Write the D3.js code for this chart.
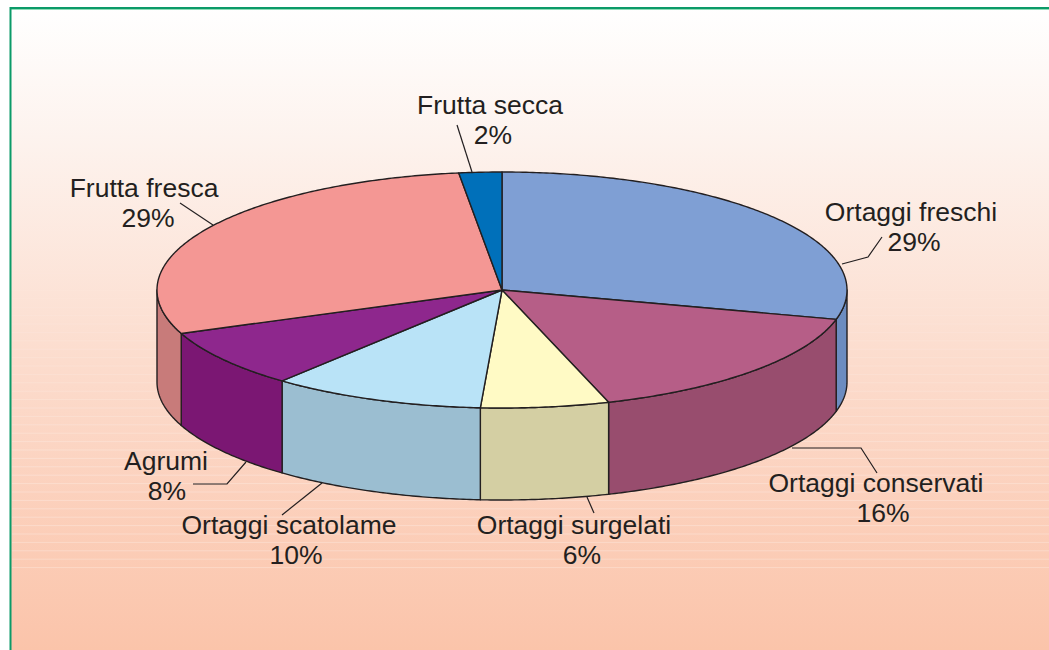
<!DOCTYPE html>
<html>
<head>
<meta charset="utf-8">
<script src="https://cdn.jsdelivr.net/npm/d3@7"></script>
<style>
  html, body { margin: 0; padding: 0; background: #ffffff; }
  svg { display: block; }
</style>
</head>
<body>
<svg id="chart" width="1049" height="650"></svg>
<script>
// ---- data ----
const categories = ["Ortaggi freschi", "Ortaggi conservati", "Ortaggi surgelati",
                    "Ortaggi scatolame", "Agrumi", "Frutta fresca", "Frutta secca"];
const values = [29, 16, 6, 10, 8, 29, 2];
const percentLabels = ["29%", "16%", "6%", "10%", "8%", "29%", "2%"];

// ---- style / layout ----
const topColors  = ["#7F9FD4", "#B65E87", "#FFFAC5", "#B9E3F7", "#8E278D", "#F49794", "#0070BA"];
const sideColors = ["#6C8CC0", "#984D6E", "#D4CFA3", "#9BBED1", "#7B1773", "#C87B7A", "#005C99"];
// label centre x, percent centre x, first baseline y, leader polyline
const labelLayout = [
  { x: 911, px: 914, y: 221, leader: [[842, 264], [868, 257], [882, 237]] },
  { x: 876, px: 883, y: 492, leader: [[792, 448], [861, 448], [877, 473]] },
  { x: 574, px: 582, y: 534, leader: [[587, 497], [594, 513]] },
  { x: 289, px: 296, y: 534, leader: [[322, 483], [282, 515]] },
  { x: 166, px: 167, y: 470, leader: [[246, 462], [227, 484], [193, 484]] },
  { x: 144, px: 148, y: 197, leader: [[213, 225], [180, 203]] },
  { x: 490, px: 493, y: 114, leader: [[472, 172], [457, 125]] }
];

const W = 1049, H = 650;
const cx = 502, cy = 290, rx = 345, ry = 118, depth = 92;
const ink = "#231F20";

const svg = d3.select("#chart");
const defs = svg.append("defs");
const grad = defs.append("linearGradient").attr("id", "bg")
  .attr("x1", 0).attr("y1", 0).attr("x2", 0).attr("y2", 1);
grad.append("stop").attr("offset", "0%").attr("stop-color", "#FFFFFF");
grad.append("stop").attr("offset", "20%").attr("stop-color", "#FDF3EE");
grad.append("stop").attr("offset", "55%").attr("stop-color", "#FCDCCD");
grad.append("stop").attr("offset", "100%").attr("stop-color", "#FBC4AA");

svg.append("rect").attr("x", 10).attr("y", 8).attr("width", W - 10).attr("height", H - 8)
  .attr("fill", "url(#bg)");
// faint horizontal banding lines
const bandY = d3.range(0, 40).map(i => 240 + i * 8.4);
svg.append("g").selectAll("line").data(bandY).join("line")
  .attr("x1", 12).attr("x2", W).attr("y1", d => d).attr("y2", d => d)
  .attr("stroke", "#ffffff").attr("stroke-opacity", d => Math.min(0.25, (d - 240) / 900))
  .attr("stroke-width", 1);

// frame
svg.append("line").attr("x1", 10).attr("x2", W).attr("y1", 9.5).attr("y2", 9.5)
  .attr("stroke", "#8FDCB8").attr("stroke-width", 1);
svg.append("line").attr("x1", 10).attr("x2", W).attr("y1", 8).attr("y2", 8)
  .attr("stroke", "#0B9A68").attr("stroke-width", 2);
svg.append("line").attr("x1", 10.5).attr("x2", 10.5).attr("y1", 7).attr("y2", H)
  .attr("stroke", "#0B9A68").attr("stroke-width", 2);

// ---- pie geometry via d3.pie ----
const pie = d3.pie().sort(null).value(d => d)
  .startAngle(0).endAngle(2 * Math.PI);
const arcs = pie(values);

const ex = a => cx + rx * Math.sin(a);
const ey = a => cy - ry * Math.cos(a);

function arcPoints(a0, a1, dy) {
  const n = Math.max(2, Math.ceil(Math.abs(a1 - a0) / 0.01));
  return d3.range(n + 1).map(i => {
    const a = a0 + (a1 - a0) * i / n;
    return [ex(a), ey(a) + dy];
  });
}
const line = d3.line();

// side walls (front half: PI/2 .. 3PI/2)
const gSide = svg.append("g");
arcs.forEach((d, i) => {
  const s = Math.max(d.startAngle, Math.PI / 2);
  const e = Math.min(d.endAngle, 3 * Math.PI / 2);
  if (e <= s) return;
  const pts = arcPoints(s, e, 0).concat(arcPoints(e, s, depth));
  gSide.append("path")
    .attr("d", line(pts) + "Z")
    .attr("fill", sideColors[i])
    .attr("stroke", ink).attr("stroke-width", 1.4).attr("stroke-linejoin", "round");
});

// top slices
const gTop = svg.append("g");
arcs.forEach((d, i) => {
  const pts = [[cx, cy]].concat(arcPoints(d.startAngle, d.endAngle, 0));
  gTop.append("path")
    .attr("d", line(pts) + "Z")
    .attr("fill", topColors[i])
    .attr("stroke", ink).attr("stroke-width", 1.4).attr("stroke-linejoin", "round");
});

// labels + leaders
const gLab = svg.append("g");
categories.forEach((c, i) => {
  const L = labelLayout[i];
  gLab.append("path").attr("d", line(L.leader))
    .attr("fill", "none").attr("stroke", ink).attr("stroke-width", 1.2);
  const t = gLab.append("text")
    .attr("x", L.x).attr("y", L.y)
    .attr("text-anchor", "middle")
    .attr("font-family", "'Liberation Sans', Arial, sans-serif")
    .attr("font-size", 26.5)
    .attr("fill", ink);
  t.append("tspan").attr("x", L.x).text(c);
  t.append("tspan").attr("x", L.px).attr("dy", 30).text(percentLabels[i]);
});
</script>
</body>
</html>
